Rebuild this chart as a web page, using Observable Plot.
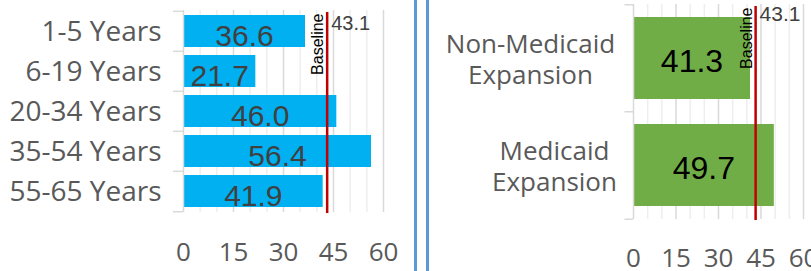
<!DOCTYPE html>
<html>
<head>
<meta charset="utf-8">
<script src="https://cdn.jsdelivr.net/npm/d3@7"></script>
<script src="https://cdn.jsdelivr.net/npm/@observablehq/plot@0.6"></script>
<style>
  html, body { margin: 0; padding: 0; background: #fff; overflow: hidden; }
  #wrap { display: flex; width: 811px; height: 271px; }
  #left { width: 414px; height: 271px; border-right: 3px solid #5b9bd5; overflow: hidden; flex: none; }
  #right { width: 382px; height: 271px; margin-left: 9px; border-left: 3px solid #5b9bd5; overflow: hidden; flex: none; }
  svg { display: block; max-width: none !important; }
</style>
</head>
<body>
<div id="wrap"><div id="left"></div><div id="right"></div></div>
<script>
// ---- data ----
const ageCategories = ["1-5 Years", "6-19 Years", "20-34 Years", "35-54 Years", "55-65 Years"];
const ageValues = [36.6, 21.7, 46.0, 56.4, 41.9];
const expansionCategories = ["Non-Medicaid\nExpansion", "Medicaid\nExpansion"];
const expansionValues = [41.3, 49.7];
const baselineValue = 43.1;
const xTickValues = [0, 15, 30, 45, 60];
const gridMinor = [0, 5, 10, 15, 20, 25, 30, 35, 40, 45, 50, 55, 60];

const ageData = ageCategories.map((c, i) => ({cat: c, value: ageValues[i]}));
const expData = expansionCategories.map((c, i) => ({cat: c, value: expansionValues[i]}));

function panel({data, cats, width, height, marginLeft, marginRight, marginTop, marginBottom,
                 padInner, barFill, valueColor, valueSize, valueDy, tickPad, numDy, numSize, yAxisMarks}) {
  const n = cats.length;
  const step = (height - marginTop - marginBottom) / n;
  const majors = gridMinor.filter(d => d % 15 === 0);
  const minors = gridMinor.filter(d => d % 15 !== 0);
  return Plot.plot({
    width, height, marginLeft, marginRight, marginTop, marginBottom,
    style: {fontFamily: "'Open Sans', sans-serif", fontSize: "26px", color: "#595959", background: "#fff", overflow: "visible", maxWidth: "none"},
    x: {domain: [0, 60], label: null},
    y: {domain: cats, paddingInner: padInner, paddingOuter: padInner / 2, label: null, axis: null},
    marks: [
      Plot.ruleX(minors, {stroke: "#eeeeee", strokeWidth: 1.5}),
      Plot.ruleX(majors.filter(d => d !== 0), {stroke: "#d9d9d9", strokeWidth: 1.5}),
      Plot.barX(data, {x: "value", y: "cat", fill: barFill, insetLeft: 1}),
      Plot.ruleX([0], {stroke: "#d9d9d9", strokeWidth: 1.5}),
      Plot.ruleY(cats, {y: d => d, x1: -3, x2: 0, dy: -step / 2, stroke: "#d9d9d9", strokeWidth: 1.5}),
      Plot.ruleY([cats[n - 1]], {y: d => d, x1: -3, x2: 0, dy: step / 2, stroke: "#d9d9d9", strokeWidth: 1.5}),
      Plot.ruleX([baselineValue], {x: d => d, stroke: "#c00000", strokeWidth: 2.5, insetTop: 2, insetBottom: -1}),
      Plot.text(data, {x: d => d.value / 2, y: "cat", text: d => d.value.toFixed(1),
        fontFamily: "'Liberation Sans', Arial, sans-serif", fontSize: valueSize, fill: valueColor, dy: valueDy}),
      Plot.text([baselineValue], {x: d => d, frameAnchor: "top", text: () => "Baseline", rotate: -90,
        textAnchor: "end", lineAnchor: "bottom", dx: -4, dy: 3,
        fontFamily: "'Liberation Sans', Arial, sans-serif", fontSize: 16, fill: "#000"}),
      Plot.text([baselineValue], {x: d => d, frameAnchor: "top", text: d => d.toFixed(1),
        textAnchor: "start", lineAnchor: "top", dx: 4, dy: numDy,
        fontFamily: "'Liberation Sans', Arial, sans-serif", fontSize: numSize, fill: "#404040"}),
      Plot.axisX({ticks: xTickValues, tickSize: 0, tickPadding: tickPad, fontSize: 26, label: null}),
      ...yAxisMarks
    ]
  });
}

const left = panel({
  data: ageData, cats: ageCategories, width: 414, height: 271,
  marginLeft: 183, marginRight: 31, marginTop: 10, marginBottom: 59, padInner: 0.2,
  barFill: "#00b0f0", valueColor: "#404040", valueSize: 30, valueDy: 5, tickPad: 30, numDy: 5, numSize: 20,
  yAxisMarks: [Plot.axisY({tickSize: 0, tickPadding: 22, fontSize: 28, label: null, dy: 1})]
});

const right = panel({
  data: expData, cats: expansionCategories, width: 404, height: 271,
  marginLeft: 204, marginRight: 30, marginTop: 4, marginBottom: 52, padInner: 0.23,
  barFill: "#70ad47", valueColor: "#000", valueSize: 32, valueDy: 3, tickPad: 29, numDy: 2, numSize: 21,
  yAxisMarks: [
    Plot.text([expansionCategories[0]], {y: d => d, text: d => d, frameAnchor: "left", textAnchor: "middle",
      lineAnchor: "middle", lineHeight: 1.2, dx: -103, fontSize: 26, fill: "#595959"}),
    Plot.text([expansionCategories[1]], {y: d => d, text: d => d, frameAnchor: "left", textAnchor: "middle",
      lineAnchor: "middle", lineHeight: 1.2, dx: -79, fontSize: 26, fill: "#595959"})
  ]
});

document.getElementById("left").append(left);
document.getElementById("right").append(right);
</script>
</body>
</html>
